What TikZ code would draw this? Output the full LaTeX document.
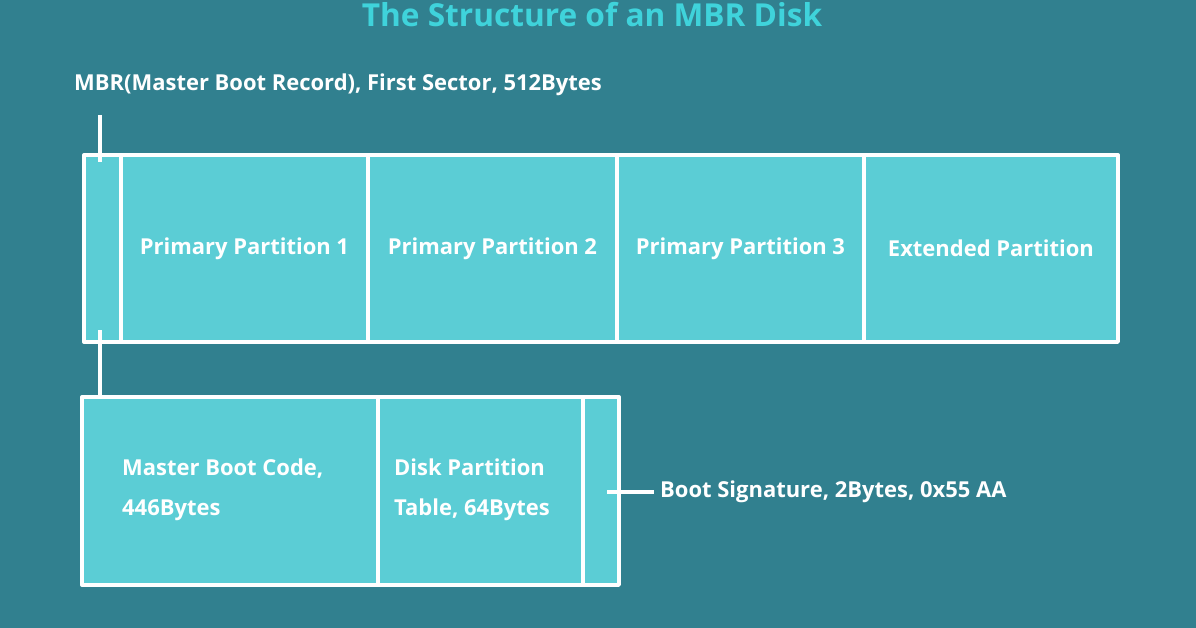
\documentclass[tikz,border=0pt]{standalone}
\usepackage{fontspec}
\setmainfont{Open Sans}
\definecolor{bgteal}{HTML}{31808F}
\definecolor{cellfill}{HTML}{5BCDD5}
\definecolor{titlecyan}{HTML}{3FD3DB}
\tikzset{
  cell/.style={draw=white,line width=2.2pt,fill=cellfill,anchor=north west,inner sep=0pt},
  lbl/.style={text=white,font=\fontsize{12.5}{22.5}\selectfont\bfseries,align=left},
  link/.style={draw=white,line width=2pt}
}
\begin{document}
\begin{tikzpicture}[x=0.02cm,y=-0.02cm,line join=round]
\fill[bgteal] (0,0) rectangle (1196,628);
\useasboundingbox (0,0) rectangle (1196,628);
\node[text=titlecyan,font=\fontsize{18}{20}\selectfont\bfseries] (title) at (592,15) {The Structure of an MBR Disk};
\node[lbl,anchor=west] (mbrlbl) at (68,85) {MBR(Master Boot Record), First Sector, 512Bytes};
% top bar
\node[cell,minimum width=37*0.02cm,minimum height=187*0.02cm] (mbr) at (82,153) {};
\node[cell,minimum width=247*0.02cm,minimum height=187*0.02cm] (p1) at (119,153) {};
\node[cell,minimum width=249*0.02cm,minimum height=187*0.02cm] (p2) at (366,153) {};
\node[cell,minimum width=247*0.02cm,minimum height=187*0.02cm] (p3) at (615,153) {};
\node[cell,minimum width=254*0.02cm,minimum height=187*0.02cm] (ext) at (862,153) {};
\node[lbl] at (p1.center) {Primary Partition 1};
\node[lbl] at (p2.center) {Primary Partition 2};
\node[lbl] at (p3.center) {Primary Partition 3};
\node[lbl] at (ext.center) {Extended Partition};
% bottom bar
\node[cell,minimum width=296*0.02cm,minimum height=188*0.02cm] (code) at (80,395) {};
\node[cell,minimum width=205*0.02cm,minimum height=188*0.02cm] (table) at (376,395) {};
\node[cell,minimum width=36*0.02cm,minimum height=188*0.02cm] (sig) at (581,395) {};
\node[lbl,anchor=west] at (116,490) {Master Boot Code,\\446Bytes};
\node[lbl,anchor=west] at (388,490) {Disk Partition\\Table, 64Bytes};
\node[lbl,anchor=west] (siglbl) at (654,492) {Boot Signature, 2Bytes, 0x55 AA};
% connectors
\coordinate (t1) at (100,115);
\coordinate (t2) at (100,162);
\coordinate (b1) at (100,330);
\coordinate (s1) at (607,492);
\draw[link] (t1) -- (t2);
\draw[link] (b1) -- (b1|-code.north);
\draw[link] (s1) -- (siglbl.west);
\end{tikzpicture}
\end{document}
